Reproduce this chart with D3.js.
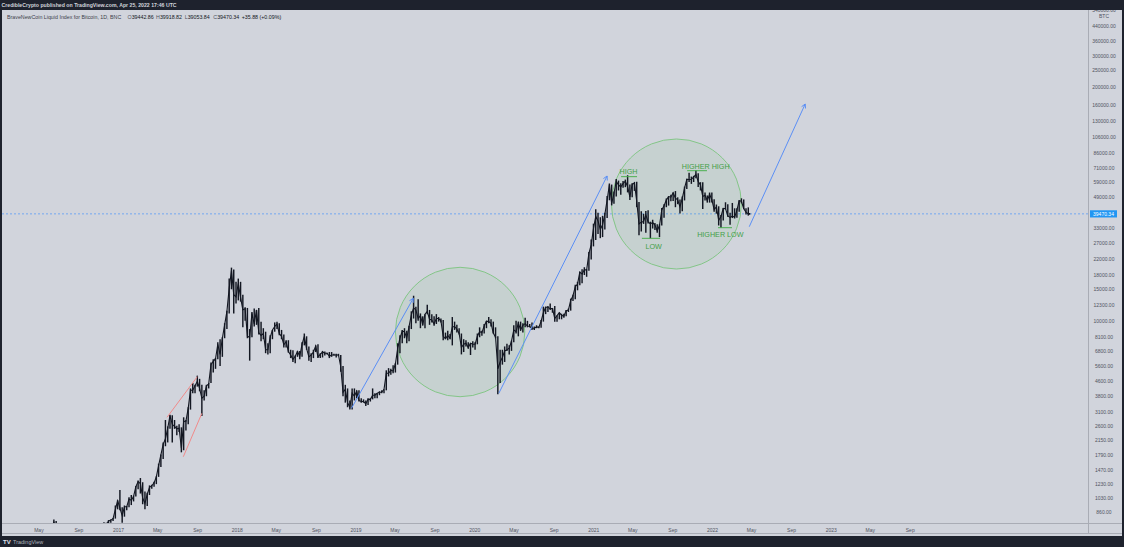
<!DOCTYPE html>
<html><head><meta charset="utf-8">
<script src="https://cdn.jsdelivr.net/npm/d3@7"></script>
<style>html,body{margin:0;padding:0;background:#1e222d;}svg{display:block;font-family:"Liberation Sans",Arial,sans-serif;}</style>
</head><body>
<svg id="c" width="1124" height="547"></svg>
<script>
// ---- weekly BNC BTC index (week starting Monday) ----
const firstWeek = "2016-01-04";
const high2016 = [460,450,425,400,390,405,445,440,440,420,420,425,425,425,432,463,470,465,460,460,535,590,690,780,765,700,690,680,680,660,630,600,590,590,615,630,612,612,615,620,645,660,735,740,720,755,750,775,780,795,935,1000];
const low2016  = [425,370,365,365,365,370,400,405,390,405,405,405,410,415,420,425,440,440,445,435,440,520,570,670,560,610,610,645,645,620,480,575,565,570,570,600,600,590,600,605,615,625,650,685,690,700,720,725,750,765,790,890];
const close2016= [447,382,403,378,376,403,438,433,412,414,410,418,420,422,430,458,446,460,456,442,528,582,680,760,660,665,650,665,655,625,590,580,582,575,610,608,610,603,612,616,640,655,700,708,702,730,730,765,775,790,890,995];
const high2017 = [1140,915,935,930,1040,1070,1060,1200,1290,1330,1260,1120,1100,1210,1220,1270,1360,1600,1800,2100,2800,2580,3000,2980,2800,2600,2650,2550,2900,2800,3300,4200,4500,4400,4950,4750,4400,4100,4400,4500,5850,6100,6200,7600,7900,8100,9700,11400,17200,19800,19300,16500];
const low2017  = [880,750,810,880,915,940,985,1050,1150,1090,950,890,930,1070,1160,1190,1230,1350,1530,1700,2000,2100,2500,2100,2500,2300,2400,1850,1900,2450,2650,3200,3950,3950,4300,4050,2950,3600,3800,4200,4500,5150,5400,6100,5600,6300,8000,9000,11000,15000,11000,12500];
const close2017= [905,820,920,920,1015,1000,1050,1190,1270,1240,1030,960,1080,1180,1205,1250,1350,1560,1790,2050,2200,2520,2960,2650,2580,2500,2520,1950,2750,2760,3250,4100,4100,4350,4600,4200,3700,3800,4350,4450,5700,5950,6150,7400,6500,8000,9500,11300,15200,19100,14000,13600];
const high2018 = [17200,16500,14000,11900,11800,9000,11200,11700,11500,11800,9900,9100,8700,7500,8300,8900,9800,9900,9700,8900,8400,7800,7800,6900,6850,6400,6800,6800,7600,8500,8200,7200,6600,6900,7300,7400,6600,6800,6750,6650,6700,6700,6550,6550,6550,6450,5600,4400,4200,3600,4200,4200];
const low2018  = [13000,12800,9200,10000,8000,6000,8100,9300,9500,8400,7700,7900,6600,6500,6600,7900,8700,9000,8300,7900,7100,7100,6650,6200,5900,5800,6300,6100,6300,7300,6900,6000,5900,6200,6700,6200,6200,6250,6400,6500,6200,6300,6400,6250,6350,5200,3800,3500,3300,3200,3200,3600];
const close2018= [16200,13500,11500,11700,8200,8100,11000,9600,11500,8600,8300,8500,6900,6900,8100,8900,9300,9600,8500,8200,7350,7650,6750,6450,6100,6350,6750,6350,7400,8200,7000,6300,6450,6700,7250,6300,6500,6700,6600,6600,6350,6450,6450,6450,6450,5550,4000,4150,3500,3300,3950,3800];
const high2019 = [4100,4100,3700,3650,3600,3700,3700,4200,3950,3950,4050,4100,4150,5300,5450,5400,5650,5800,7500,8300,8900,9100,8800,9400,11300,13800,12000,13200,11000,10600,10900,12300,11500,10900,10600,10900,10500,10300,10100,8600,8800,8450,10500,9900,9500,9100,8500,7900,7800,7600,7500,7700];
const low2019  = [3700,3550,3500,3500,3350,3400,3550,3650,3700,3700,3850,3950,3950,4100,4900,5000,5100,5150,5700,6600,7500,8000,7500,7700,9000,10300,9700,10000,9100,9400,9100,10900,9500,9800,9400,9600,9900,9800,7800,7900,7800,7900,7300,8900,8600,8400,6500,6700,7200,7000,6450,7100];
const close2019= [4050,3600,3550,3550,3450,3650,3650,3850,3850,3950,4000,4000,4150,5100,5100,5300,5250,5750,7000,8000,8750,8700,8000,9300,10800,11800,11500,10300,10700,9500,10900,11300,10200,10100,9600,10300,10300,10000,8200,7950,8300,8000,9250,9300,9000,8500,7100,7400,7500,7100,7500,7400];
const high2020 = [7600,8500,9200,8800,9600,10000,10500,10200,9900,9200,8200,6900,6900,7200,7450,7300,7750,9450,10000,9900,9900,9700,10400,10000,9600,9800,9300,9450,9300,10100,12000,12000,12100,12500,11800,12100,10700,11100,10950,10950,11500,11700,13300,14000,15900,16500,18800,19400,19900,19400,24200,28400];
const low2020  = [6900,7400,8100,8250,8500,9100,9700,9300,8500,8000,3900,4500,5700,5900,6800,6500,6800,7600,8500,8200,8800,8600,9200,9200,9200,8900,8900,9100,9100,9150,9900,10900,11200,11500,11100,9900,9900,10200,10200,10400,10600,11200,11400,12900,13200,14800,15800,16200,18000,17600,19000,22000];
const close2020= [7400,8200,8700,8600,9350,9950,9900,9700,8550,8100,5400,5900,6250,6800,6900,7050,7700,8900,8700,9700,8900,9450,9650,9350,9300,9100,9100,9250,9200,9950,11100,11900,11900,11700,11700,10300,10700,11100,10750,10600,11400,11500,13000,13800,15500,16000,18700,18200,19300,19200,23800,26500];
const high2021 = [34800,41900,40100,37800,38500,40000,49700,58300,57500,52600,61700,60500,58400,60200,61300,64800,57500,58400,59500,59600,46000,40800,39500,40900,41300,35700,36600,35100,34600,34500,42600,44700,48100,49500,50500,51900,52900,48800,47400,49300,56000,62000,67000,63700,64300,69000,66400,59300,59200,51900,50000,51900,52000];
const low2021  = [26000,28200,30500,28900,29300,32300,37400,47000,44000,45000,49300,53300,50500,55200,55600,52000,47100,48800,53000,43000,30000,31500,34700,31000,34900,28800,32700,32100,31000,29300,34000,37500,43000,43900,46400,46600,43000,44700,39600,40800,46900,54300,59500,58000,59400,62300,55700,53300,42000,46800,45600,45600,45600];
const close2021= [32700,38300,36000,32300,34300,39200,47100,57500,45200,51200,59800,57300,55800,58200,60000,56000,49100,57800,58500,46400,34700,35500,35800,39000,35600,34700,35300,34200,31800,34000,41500,43800,47100,49300,48900,51800,48300,47300,43200,48200,55000,61500,61300,61500,63300,65500,59700,57200,49400,50100,46700,50800,47300];
const high2022 = [47600,44500,43500,38900,42600,45800,44700,40000,45400,42400,42400,47000,48200,47500,42400,42900,39918.82];
const low2022  = [40500,39600,34000,32900,36300,41700,38000,34300,37400,37200,37600,40500,45200,42000,39200,38600,39053.84];
const close2022= [41800,43100,36300,38200,42400,42200,38400,37700,38400,37800,41300,46800,46400,42200,40400,39400,39470.34];
const lastDate = "2022-04-25";
const lastPrice = 39470.34;

// ---- axes ----
const priceTicks = [540000,440000,360000,300000,250000,200000,160000,130000,106000,86000,71000,59000,49000,33000,27000,22000,18000,15000,12300,10000,8100,6800,5600,4600,3800,3100,2600,2150,1790,1470,1230,1030,860];
const timeTicks = [["2016-05-01","May"],["2016-09-01","Sep"],["2017-01-01","2017"],["2017-05-01","May"],["2017-09-01","Sep"],["2018-01-01","2018"],["2018-05-01","May"],["2018-09-01","Sep"],["2019-01-01","2019"],["2019-05-01","May"],["2019-09-01","Sep"],["2020-01-01","2020"],["2020-05-01","May"],["2020-09-01","Sep"],["2021-01-01","2021"],["2021-05-01","May"],["2021-09-01","Sep"],["2022-01-01","2022"],["2022-05-01","May"],["2022-09-01","Sep"],["2023-01-01","2023"],["2023-05-01","May"],["2023-09-01","Sep"]];

// ---- drawings ----
const redLines = [["2017-05-30",2900,"2017-08-31",4884],["2017-07-19",1748,"2017-09-14",3052]];
const blueArrows = [["2018-12-18",3254,"2019-06-26",13355],["2020-03-15",3945,"2021-02-11",64170],["2022-04-24",33470,"2022-10-13",161700]];
const circles = [["2019-11-17",8665,19880],["2021-09-12",44800,103200]];
const labelTexts = ["HIGH","LOW","HIGHER HIGH","HIGHER LOW"];
const labelAnchors = [["2021-04-18",65500],["2021-07-04",25150],["2021-12-11",70500],["2022-01-25",29220]];
const labelLines = [["2021-03-26","2021-05-14",63630],["2021-05-29","2021-07-24",28840],["2021-10-15","2021-12-15",68690],["2022-01-18","2022-03-02",33050]];

const headerText = "CredibleCrypto published on TradingView.com, Apr 25, 2022 17:46 UTC";
const titleText = "BraveNewCoin Liquid Index for Bitcoin, 1D, BNC";
const ohlcText = [["O","39442.86"],["H","39918.82"],["L","39053.84"],["C","39470.34"]];
const changeText = "+35.88 (+0.09%)";

// ---------------------------------------------------------------
const highs = [].concat(high2016,high2017,high2018,high2019,high2020,high2021,high2022);
const lows = [].concat(low2016,low2017,low2018,low2019,low2020,low2021,low2022);
const closes = [].concat(close2016,close2017,close2018,close2019,close2020,close2021,close2022);
const D = s => new Date(s+"T00:00:00Z");
const DAY = 864e5;
const t0 = D(firstWeek).getTime();
const bars = highs.map((h,i)=>{
  let t = t0 + i*7*DAY + 3*DAY;
  if (i===highs.length-1) t = D(lastDate).getTime();
  return {t:new Date(t), h, l:lows[i], c:closes[i]};
});

const W=1124,H=547;
const L=2, R=1088, T=10, B=523;
const svg = d3.select("#c");
svg.append("rect").attr("width",W).attr("height",H).attr("fill","#1e222d");
svg.append("rect").attr("x",2).attr("y",T).attr("width",1120).attr("height",526).attr("fill","#d1d4dc");

const x = d3.scaleUtc().domain([D("2017-01-01"),D("2022-01-01")]).range([118.6,712.5]);
const y = d3.scaleLog().domain([860,440000]).range([512,26]);

svg.append("clipPath").attr("id","clip").append("rect").attr("x",L).attr("y",T).attr("width",R-L).attr("height",B-T);
const g = svg.append("g").attr("clip-path","url(#clip)");

// current price dashed line
g.append("line").attr("x1",L).attr("x2",R).attr("y1",y(lastPrice)).attr("y2",y(lastPrice))
  .attr("stroke","#5b9cf6").attr("stroke-width",0.8).attr("stroke-dasharray","2,2");

// circles
circles.forEach(([d,p,top])=>{
  const cx=x(D(d)), cy=y(p), r=cy-y(top);
  g.append("circle").attr("cx",cx).attr("cy",cy).attr("r",r)
    .attr("fill","rgba(76,175,80,0.08)").attr("stroke","#7cc47f").attr("stroke-width",0.9);
});

// price bars
g.append("path").datum(bars)
  .attr("d",d3.line().x(b=>x(b.t)).y(b=>y(b.c)))
  .attr("fill","none").attr("stroke","#131722").attr("stroke-width",1.1);
g.selectAll("line.bar").data(bars).join("line").attr("class","bar")
  .attr("x1",b=>x(b.t)).attr("x2",b=>x(b.t))
  .attr("y1",b=>y(b.h)).attr("y2",b=>y(b.l))
  .attr("stroke","#131722").attr("stroke-width",1.45);

// red trend lines
redLines.forEach(([d1,p1,d2,p2])=>{
  g.append("line").attr("x1",x(D(d1))).attr("y1",y(p1)).attr("x2",x(D(d2))).attr("y2",y(p2))
    .attr("stroke","#f08a8a").attr("stroke-width",1);
});
// blue arrows
blueArrows.forEach(([d1,p1,d2,p2])=>{
  const x1=x(D(d1)), y1=y(p1), x2=x(D(d2)), y2=y(p2);
  g.append("line").attr("x1",x1).attr("y1",y1).attr("x2",x2).attr("y2",y2)
    .attr("stroke","#5b8ff5").attr("stroke-width",1);
  const a=Math.atan2(y2-y1,x2-x1), len=4.5;
  [a+Math.PI-0.5, a+Math.PI+0.5].forEach(b=>{
    g.append("line").attr("x1",x2).attr("y1",y2).attr("x2",x2+len*Math.cos(b)).attr("y2",y2+len*Math.sin(b))
      .attr("stroke","#5b8ff5").attr("stroke-width",1);
  });
});
// labels
labelLines.forEach(([d1,d2,p])=>{
  g.append("line").attr("x1",x(D(d1))).attr("x2",x(D(d2))).attr("y1",y(p)).attr("y2",y(p))
    .attr("stroke","#4caf50").attr("stroke-width",1);
});
labelTexts.forEach((t,i)=>{
  g.append("text").attr("x",x(D(labelAnchors[i][0]))).attr("y",y(labelAnchors[i][1]))
    .attr("text-anchor","middle").attr("font-size",7.2).attr("fill","#43a047").text(t);
});

// axes frame
svg.append("line").attr("x1",R+0.5).attr("x2",R+0.5).attr("y1",T).attr("y2",533).attr("stroke","#a9acb5").attr("stroke-width",1);
svg.append("line").attr("x1",L).attr("x2",1122).attr("y1",B+0.5).attr("y2",B+0.5).attr("stroke","#a9acb5").attr("stroke-width",1);
svg.append("line").attr("x1",L).attr("x2",1122).attr("y1",533.5).attr("y2",533.5).attr("stroke","#a9acb5").attr("stroke-width",1);

// price axis labels
const pa = svg.append("g");
priceTicks.forEach(p=>{
  pa.append("text").attr("x",1104).attr("y",y(p)+1.8).attr("text-anchor","middle")
    .attr("font-size",5).attr("fill","#50535e").text(p.toFixed(2));
});
pa.append("text").attr("x",1104).attr("y",y(540000)+7.5).attr("text-anchor","middle").attr("font-size",5).attr("fill","#50535e").text("BTC");
pa.append("rect").attr("x",1090).attr("y",y(lastPrice)-3.6).attr("width",27).attr("height",7.2).attr("fill","#2196f3");
pa.append("text").attr("x",1103.5).attr("y",y(lastPrice)+1.8).attr("text-anchor","middle")
  .attr("font-size",5).attr("fill","#ffffff").text(lastPrice.toFixed(2));

// time axis labels
timeTicks.forEach(([d,t])=>{
  svg.append("text").attr("x",x(D(d))).attr("y",531.5).attr("text-anchor","middle")
    .attr("font-size",5).attr("fill","#50535e").text(t);
});

// legend line
const lg = svg.append("text").attr("x",7).attr("y",18.5).attr("font-size",5.3).attr("fill","#3c3f4a");
lg.append("tspan").text(titleText);
ohlcText.forEach(([k,v],i)=>{
  lg.append("tspan").attr("x",127.5+i*28.6).attr("fill","#50535e").text(k);
  lg.append("tspan").attr("fill","#131722").text(v);
});
lg.append("tspan").attr("x",241.7).attr("fill","#131722").text(changeText);

// header and footer bars
svg.append("rect").attr("x",0).attr("y",0).attr("width",W).attr("height",T).attr("fill","#1e222d");
svg.append("text").attr("x",1.5).attr("y",7).attr("font-size",5.2).attr("font-weight","bold").attr("fill","#d1d4dc").text(headerText);
svg.append("rect").attr("x",0).attr("y",536).attr("width",W).attr("height",11).attr("fill","#1e222d");
svg.append("text").attr("x",3).attr("y",544).attr("font-size",6).attr("font-weight","bold").attr("fill","#e0e3eb").text("TV");
svg.append("text").attr("x",13).attr("y",544).attr("font-size",5.5).attr("fill","#b2b5be").text("TradingView");
</script>
</body></html>
